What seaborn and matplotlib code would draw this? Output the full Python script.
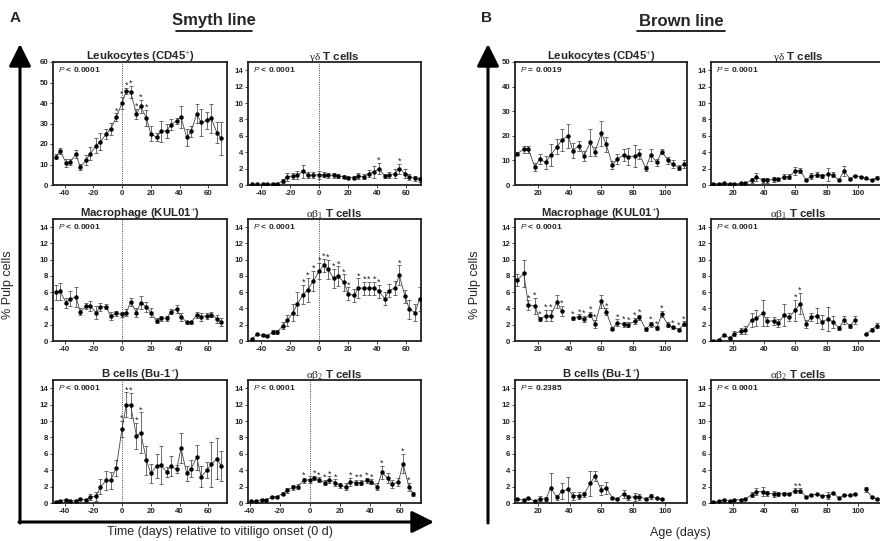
import numpy as np
import pandas as pd
import matplotlib
matplotlib.use('Agg')
import matplotlib.pyplot as plt
import seaborn as sns

sns.set_style('white')
plt.rcParams['font.family'] = ['Liberation Sans', 'DejaVu Sans']
plt.rcParams['axes.unicode_minus'] = False
plt.rcParams['mathtext.fontset'] = 'custom'
plt.rcParams['mathtext.rm'] = 'Liberation Serif'
plt.rcParams['mathtext.it'] = 'Liberation Sans:italic'
plt.rcParams['mathtext.bf'] = 'Liberation Sans:bold'

nan = np.nan

# ---- data -------------------------------------------------------------
smyth_days = [-46, -43, -39, -36, -32, -29, -25, -22, -18, -15, -11, -8, -4, 0, 3, 6, 10, 13, 17,
              20, 24, 27, 31, 34, 38, 41, 45, 48, 52, 55, 59, 62, 66, 69]
brown_days = [7, 11, 14, 18, 21, 25, 28, 32, 35, 39, 42, 46, 49, 53, 56, 60, 63, 67, 70, 74, 77,
              81, 84, 88, 91, 95, 98, 102, 105, 109, 112]

# Smyth line
sm_leuk = [13.9, 16.6, 10.9, 11.4, 15.0, 8.6, 12.2, 15.3, 19.2, 21.2, 24.8, 27.2, 33.0, 40.0, 46.0,
           45.4, 34.7, 38.3, 32.6, 25.0, 23.3, 26.1, 26.4, 29.4, 31.3, 33.1, 23.2, 26.1, 34.7, 30.5,
           31.5, 32.6, 25.5, 22.7]
sm_leuk_err = [1.0, 1.5, 2.0, 1.5, 2.0, 1.5, 2.5, 3.0, 3.5, 4.3, 2.5, 3.0, 2.0, 3.0, 1.5, 3.0, 2.5,
               3.3, 4.0, 3.7, 2.0, 5.0, 3.5, 2.7, 1.6, 5.3, 4.0, 2.5, 4.6, 6.5, 4.0, 7.0, 5.0, 8.0]
sm_leuk_star = [12, 13, 14, 15, 16, 17, 18]

sm_gd = [0.1, 0.1, 0.1, 0.1, 0.15, 0.15, 0.5, 1.0, 1.1, 1.2, 1.7, 1.2, 1.2, 1.25, 1.25, 1.2, 1.2,
         1.1, 1.0, 0.9, 0.9, 1.1, 1.0, 1.4, 1.6, 2.0, 1.1, 1.2, 1.4, 2.0, 1.4, 1.0, 0.8, 0.7]
sm_gd_err = [0.05, 0.05, 0.05, 0.05, 0.05, 0.05, 0.2, 0.5, 0.4, 0.5, 0.8, 0.4, 0.4, 0.5, 0.3, 0.3,
             0.3, 0.2, 0.2, 0.15, 0.15, 0.4, 0.3, 0.4, 0.7, 0.7, 0.3, 0.4, 0.5, 0.6, 0.5, 0.4, 0.3, 0.3]
sm_gd_star = [25, 29]

sm_mac = [6.0, 6.1, 4.7, 5.2, 5.4, 3.6, 4.3, 4.3, 3.5, 4.2, 4.2, 3.1, 3.4, 3.3, 3.5, 4.8, 3.5, 4.7,
          4.2, 3.5, 2.5, 2.8, 2.8, 3.6, 3.9, 3.0, 2.3, 2.3, 3.2, 3.0, 3.1, 3.25, 2.75, 2.3]
sm_mac_err = [0.9, 1.0, 0.6, 0.9, 1.2, 0.4, 0.4, 0.6, 0.8, 0.5, 0.3, 0.5, 0.3, 0.3, 0.4, 0.5, 0.5,
              0.8, 0.6, 0.5, 0.3, 0.3, 0.3, 0.3, 0.5, 0.5, 0.2, 0.2, 0.4, 0.5, 0.4, 0.3, 0.5, 0.5]
sm_mac_star = []

sm_ab1 = [0.3, 0.8, 0.7, 0.6, 1.1, 1.1, 1.9, 2.55, 3.5, 4.6, 5.7, 6.3, 7.4, 8.6, 9.3, 8.8, 7.7,
          8.0, 7.2, 5.8, 5.6, 6.5, 6.5, 6.5, 6.5, 6.1, 5.2, 6.2, 6.5, 8.1, 5.5, 3.9, 3.5, 5.2]
sm_ab1_err = [0.1, 0.1, 0.1, 0.1, 0.2, 0.2, 0.4, 0.7, 1.0, 1.4, 1.2, 1.5, 1.2, 1.0, 0.8, 1.2, 1.2,
              1.2, 1.0, 0.8, 0.8, 1.2, 0.8, 0.8, 0.8, 0.8, 0.8, 0.8, 0.9, 1.2, 0.8, 1.2, 1.0, 1.5]
sm_ab1_star = [10, 11, 12, 13, 14, 15, 16, 17, 18, 19, 21, 22, 23, 24, 25, 29]

sm_b = [0.15, 0.3, 0.4, 0.25, 0.3, 0.5, 0.35, 0.75, 0.8, 2.0, 2.75, 2.75, 4.3, 9.05, 12.0, 11.9,
        8.2, 8.55, 5.2, 3.6, 4.5, 4.6, 3.8, 4.5, 4.1, 6.7, 3.6, 4.2, 5.55, 3.2, 4.0, 4.7, 5.4, 4.5]
sm_b_err = [0.05, 0.1, 0.1, 0.1, 0.1, 0.15, 0.1, 0.4, 0.5, 0.9, 1.2, 1.0, 1.0, 1.0, 1.5, 1.5, 1.6,
            2.5, 1.8, 1.1, 1.5, 2.3, 0.6, 1.2, 0.5, 1.8, 0.9, 1.0, 1.5, 1.3, 1.0, 2.8, 2.5, 1.8]
sm_b_star = [13, 14, 15, 16, 17]

sm_ab2 = [nan, nan, 0.3, 0.2, 0.4, 0.4, 0.75, 0.75, 1.15, 1.55, 1.9, 2.0, 2.75, 2.85, 3.05, 2.85,
          2.5, 2.85, 2.5, 2.15, 2.0, 2.6, 2.5, 2.5, 2.75, 2.6, 2.0, 3.75, 3.0, 2.3, 2.6, 4.8, 2.0, 1.1]
sm_ab2_err = [nan, nan, 0.05, 0.05, 0.1, 0.1, 0.15, 0.15, 0.2, 0.3, 0.3, 0.3, 0.3, 0.4, 0.3, 0.3,
              0.3, 0.4, 0.4, 0.3, 0.4, 0.5, 0.3, 0.3, 0.3, 0.3, 0.4, 0.8, 0.6, 0.5, 0.5, 1.2, 0.5, 0.3]
sm_ab2_star = [12, 14, 15, 16, 17, 18, 21, 22, 23, 24, 25, 27, 31, 32]

# Brown line
br_leuk = [12.8, 14.5, 14.5, 7.3, 10.5, 9.2, 12.2, 15.5, 18.3, 20.0, 14.0, 16.0, 11.8, 17.4, 13.6,
           21.0, 16.6, 8.1, 10.5, 12.2, 11.5, 11.8, 12.5, 6.8, 12.2, 9.2, 13.6, 10.0, 8.5, 7.0, 8.5]
br_leuk_err = [0.8, 1.5, 1.5, 1.5, 2.0, 2.5, 4.5, 3.0, 4.5, 5.0, 3.0, 2.0, 2.0, 5.5, 2.0, 5.0, 3.0,
               1.5, 2.0, 2.5, 3.5, 4.5, 2.0, 1.0, 2.5, 1.5, 1.0, 1.5, 1.5, 1.0, 1.5]
br_leuk_star = []

br_gd = [0.15, 0.15, 0.25, 0.15, 0.15, 0.2, 0.2, 0.6, 1.0, 0.6, 0.6, 0.7, 0.7, 1.0, 1.0, 1.75, 1.75,
         0.6, 1.1, 1.25, 1.1, 1.3, 1.25, 0.6, 1.75, 0.75, 1.15, 1.0, 0.8, 0.6, 0.9]
br_gd_err = [0.05, 0.05, 0.05, 0.05, 0.05, 0.05, 0.05, 0.3, 0.5, 0.3, 0.3, 0.3, 0.2, 0.3, 0.3, 0.5,
             0.3, 0.1, 0.4, 0.3, 0.3, 0.8, 0.3, 0.1, 0.6, 0.1, 0.1, 0.1, 0.1, 0.1, 0.2]
br_gd_star = []

br_mac = [7.5, 8.3, 4.4, 4.3, 2.7, 3.1, 3.1, 4.8, 3.7, nan, 2.8, 3.0, 2.7, 3.25, 2.1, 4.9, 3.6, 1.5,
          2.25, 2.05, 2.0, 2.45, 2.9, 1.45, 2.05, 1.6, 3.3, 2.0, 1.7, 1.4, 2.1]
br_mac_err = [0.7, 1.7, 0.6, 1.0, 0.3, 0.7, 0.7, 0.8, 0.6, nan, 0.2, 0.3, 0.4, 0.3, 0.5, 0.8, 0.4,
              0.2, 0.4, 0.3, 0.3, 0.4, 0.3, 0.2, 0.3, 0.2, 0.4, 0.3, 0.2, 0.2, 0.3]
br_mac_star = [2, 3, 4, 5, 6, 8, 10, 11, 12, 13, 14, 16, 18, 19, 20, 21, 22, 24, 25, 26, 28, 29, 30]

br_ab1 = [0.05, 0.15, 0.7, 0.4, 0.9, 1.2, 1.3, 2.6, 2.8, 3.4, 2.4, 2.5, 2.2, 3.2, 2.9, 3.8, 4.6, 2.1,
          2.9, 3.1, 2.35, 2.7, 2.35, 1.6, 2.55, 1.85, 2.6, nan, 0.8, 1.4, 1.9]
br_ab1_err = [0.05, 0.05, 0.1, 0.1, 0.3, 0.4, 0.5, 0.9, 1.0, 1.6, 0.6, 0.5, 0.5, 1.3, 0.5, 1.3, 1.3,
              0.5, 0.5, 0.9, 0.9, 1.5, 0.7, 0.3, 0.5, 0.3, 0.5, nan, 0.1, 0.2, 0.3]
br_ab1_star = [15, 16]

br_b = [0.5, 0.35, 0.6, 0.2, 0.5, 0.5, 1.85, 0.7, 1.45, 1.65, 0.9, 0.9, 1.05, 2.4, 3.3, 1.55, 1.85,
        0.6, 0.5, 1.1, 0.7, 0.75, 0.75, 0.5, 0.8, 0.55, 0.5, nan, nan, nan, nan]
br_b_err = [0.1, 0.1, 0.1, 0.05, 0.3, 0.2, 1.8, 0.3, 1.0, 1.5, 0.5, 0.4, 0.3, 1.5, 0.6, 0.6, 0.7,
            0.1, 0.1, 0.5, 0.3, 0.5, 0.4, 0.1, 0.3, 0.1, 0.1, nan, nan, nan, nan]
br_b_star = []

br_ab2 = [0.15, 0.2, 0.4, 0.25, 0.4, 0.4, 0.5, 1.0, 1.4, 1.4, 1.2, 1.1, 1.1, 1.15, 1.15, 1.5, 1.5,
          0.75, 1.0, 1.05, 0.9, 0.9, 1.2, 0.6, 0.95, 0.95, 1.1, nan, 1.7, 0.7, 0.5]
br_ab2_err = [0.05, 0.05, 0.05, 0.05, 0.05, 0.05, 0.1, 0.3, 0.4, 0.6, 0.3, 0.4, 0.3, 0.2, 0.1, 0.3,
              0.3, 0.1, 0.1, 0.1, 0.1, 0.4, 0.1, 0.1, 0.1, 0.1, 0.1, nan, 0.3, 0.1, 0.1]
br_ab2_star = [15, 16]

t_leuk = 'Leukocytes (CD45$^{\\mathrm{+}}$)'
t_gd = '$\\mathrm{\\gamma\\delta}$ T cells'
t_mac = 'Macrophage (KUL01$^{\\mathrm{+}}$)'
t_ab1 = '$\\mathrm{\\alpha\\beta_1}$ T cells'
t_b = 'B cells (Bu-1$^{\\mathrm{+}}$)'
t_ab2 = '$\\mathrm{\\alpha\\beta_2}$ T cells'

W, H = 880, 541
fig = plt.figure(figsize=(W / 100, H / 100), dpi=100)

# overlay for arrows / big labels (pixel coords)
ov = fig.add_axes([0, 0, 1, 1])
ov.set_xlim(0, W)
ov.set_ylim(H, 0)
ov.axis('off')


def px_axes(x0, y0, x1, y1):
    return fig.add_axes([x0 / W, 1 - y1 / H, (x1 - x0) / W, (y1 - y0) / H])


def panel(rect, days, vals, errs, stars, title, pval, ylim, yticks, xlim, xticks, vline):
    ax = px_axes(*rect)
    d = pd.DataFrame({'day': days, 'val': vals, 'err': errs})
    d['seg'] = d['val'].isna().cumsum()
    d['star'] = False
    d.loc[stars, 'star'] = True
    d = d.dropna()
    if vline:
        ax.axvline(0, color='#444444', lw=0.7, ls=(0, (1, 1.3)), zorder=0)
    ax.errorbar(d['day'], d['val'], yerr=d['err'], fmt='none', ecolor='#555555',
                elinewidth=0.6, capsize=1.6, capthick=0.6, zorder=2)
    sns.lineplot(data=d, x='day', y='val', units='seg', estimator=None, ax=ax,
                 color='#444444', lw=0.6, marker='o', markersize=3.2,
                 markerfacecolor='black', markeredgecolor='black', markeredgewidth=0,
                 legend=False, zorder=3)
    for _, r in d[d['star']].iterrows():
        ax.annotate('*', (r['day'], r['val'] + r['err']), xytext=(0, -1.5),
                    textcoords='offset points', ha='center', va='bottom',
                    fontsize=6.5, color='#222222')
    ax.set_xlim(*xlim)
    ax.set_ylim(*ylim)
    ax.set_xticks(xticks)
    ax.set_yticks(yticks)
    ax.set_xlabel('')
    ax.set_ylabel('')
    ax.tick_params(labelsize=5.7, length=2, width=0.6, pad=1.5, direction='out',
                   bottom=True, left=True)
    for lb in ax.get_xticklabels() + ax.get_yticklabels():
        lb.set_fontweight('bold')
    for s in ax.spines.values():
        s.set_linewidth(1.3)
        s.set_color('#222222')
    ax.set_title(title, fontsize=8.2, fontweight='bold', pad=1.5)
    ax.text(0.03, 0.975, '$\\mathit{P}$ ' + pval, transform=ax.transAxes, ha='left',
            va='top', fontsize=6.0, fontweight='bold')
    return ax


rows = [(62, 185), (219, 341), (380, 503)]
smL, smR = (53, 227), (248, 421)
brL, brR = (515, 687), (711, 886)
sm_xt = [-40, -20, 0, 20, 40, 60]
br_xt = [20, 40, 60, 80, 100]
y15 = [0, 2, 4, 6, 8, 10, 12, 14]

panel((smL[0], rows[0][0], smL[1], rows[0][1]), smyth_days, sm_leuk, sm_leuk_err, sm_leuk_star,
      t_leuk, '< 0.0001', (0, 60), range(0, 61, 10), (-48, 73), sm_xt, True)
panel((smR[0], rows[0][0], smR[1], rows[0][1]), smyth_days, sm_gd, sm_gd_err, sm_gd_star,
      t_gd, '< 0.0001', (0, 15), y15, (-49, 70), sm_xt, True)
panel((smL[0], rows[1][0], smL[1], rows[1][1]), smyth_days, sm_mac, sm_mac_err, sm_mac_star,
      t_mac, '< 0.0001', (0, 15), y15, (-48, 73), sm_xt, True)
panel((smR[0], rows[1][0], smR[1], rows[1][1]), smyth_days, sm_ab1, sm_ab1_err, sm_ab1_star,
      t_ab1, '< 0.0001', (0, 15), y15, (-49, 70), sm_xt, True)
panel((smL[0], rows[2][0], smL[1], rows[2][1]), smyth_days, sm_b, sm_b_err, sm_b_star,
      t_b, '< 0.0001', (0, 15), y15, (-48, 73), sm_xt, True)
panel((smR[0], rows[2][0], smR[1], rows[2][1]), smyth_days, sm_ab2, sm_ab2_err, sm_ab2_star,
      t_ab2, '< 0.0001', (0, 15), y15, (-41, 74), sm_xt, True)

panel((brL[0], rows[0][0], brL[1], rows[0][1]), brown_days, br_leuk, br_leuk_err, br_leuk_star,
      t_leuk, '= 0.0019', (0, 50), range(0, 51, 10), (5.5, 114), br_xt, False)
panel((brR[0], rows[0][0], brR[1], rows[0][1]), brown_days, br_gd, br_gd_err, br_gd_star,
      t_gd, '= 0.0001', (0, 15), y15, (6, 118), br_xt, False)
panel((brL[0], rows[1][0], brL[1], rows[1][1]), brown_days, br_mac, br_mac_err, br_mac_star,
      t_mac, '< 0.0001', (0, 15), y15, (5.5, 114), br_xt, False)
panel((brR[0], rows[1][0], brR[1], rows[1][1]), brown_days, br_ab1, br_ab1_err, br_ab1_star,
      t_ab1, '< 0.0001', (0, 15), y15, (6, 118), br_xt, False)
panel((brL[0], rows[2][0], brL[1], rows[2][1]), brown_days, br_b, br_b_err, br_b_star,
      t_b, '= 0.2385', (0, 15), y15, (5.5, 114), br_xt, False)
panel((brR[0], rows[2][0], brR[1], rows[2][1]), brown_days, br_ab2, br_ab2_err, br_ab2_star,
      t_ab2, '< 0.0001', (0, 15), y15, (6, 118), br_xt, False)

# big axis arrows
arw = dict(arrowstyle='-|>,head_length=0.9,head_width=0.45', lw=2.2, color='black',
           shrinkA=0, shrinkB=0, mutation_scale=15)
ov.annotate('', xy=(20, 44), xytext=(20, 523), arrowprops=arw)
ov.annotate('', xy=(434, 522), xytext=(19, 522), arrowprops=arw)
ov.annotate('', xy=(488, 44), xytext=(488, 523), arrowprops=arw)
ov.annotate('', xy=(882, 522), xytext=(487, 522), arrowprops=arw)

# headings
ov.text(15, 18, 'A', fontsize=11, fontweight='bold', ha='center', va='center')
ov.text(487, 18, 'B', fontsize=11, fontweight='bold', ha='center', va='center')
ov.text(214, 21, 'Smyth line', fontsize=12, fontweight='bold', ha='center', va='center')
ov.plot([176, 252], [31, 31], color='black', lw=1.2)
ov.text(681, 21, 'Brown line', fontsize=12, fontweight='bold', ha='center', va='center')
ov.plot([637, 725], [31, 31], color='black', lw=1.2)

ov.text(8, 285, '% Pulp cells', fontsize=9, rotation=90, ha='center', va='center')
ov.text(475, 285, '% Pulp cells', fontsize=9, rotation=90, ha='center', va='center')
ov.text(220, 532, 'Time (days) relative to vitiligo onset (0 d)', fontsize=9,
        ha='center', va='center')
ov.text(680, 533, 'Age (days)', fontsize=9, ha='center', va='center')

fig.savefig('out.png', dpi=100)
